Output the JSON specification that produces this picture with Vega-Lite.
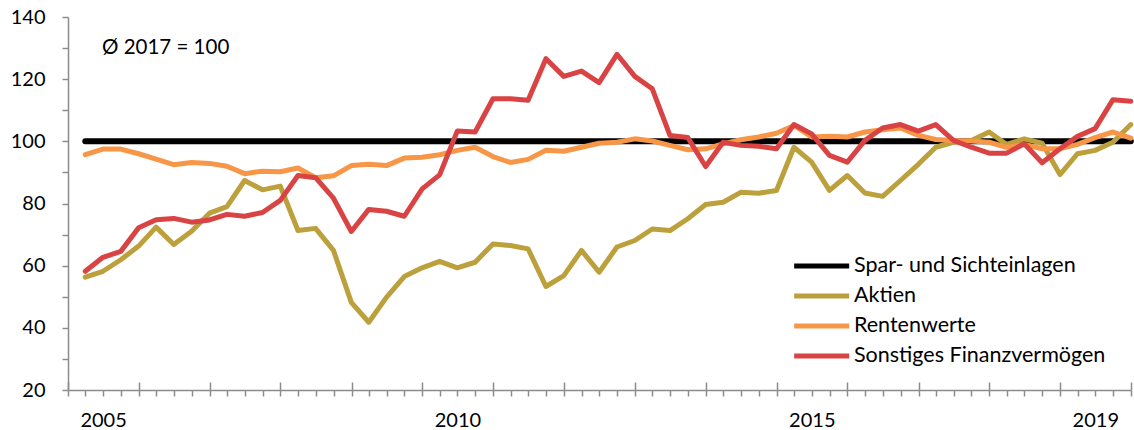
{
  "$schema": "https://vega.github.io/schema/vega-lite/v6.json",
  "width": 1063,
  "height": 373,
  "autosize": {"type": "none"},
  "padding": {"left": 68, "top": 17, "right": 3, "bottom": 40},
  "background": "white",
  "title": {
    "text": "Ø 2017 = 100",
    "anchor": "start",
    "frame": "group",
    "font": "Lato",
    "fontSize": 20.5,
    "fontWeight": "normal",
    "color": "#000000",
    "dx": 34,
    "dy": 55
  },
  "config": {
    "view": {"stroke": null},
    "font": "Lato"
  },
  "data": {
    "values": [
      {"date": "2005-03-31", "Spar- und Sichteinlagen": 100, "Aktien": 56.3, "Rentenwerte": 95.7, "Sonstiges Finanzvermögen": 58.2},
      {"date": "2005-06-30", "Spar- und Sichteinlagen": 100, "Aktien": 58.2, "Rentenwerte": 97.5, "Sonstiges Finanzvermögen": 62.7},
      {"date": "2005-09-30", "Spar- und Sichteinlagen": 100, "Aktien": 61.9, "Rentenwerte": 97.5, "Sonstiges Finanzvermögen": 64.6},
      {"date": "2005-12-31", "Spar- und Sichteinlagen": 100, "Aktien": 66.3, "Rentenwerte": 96.0, "Sonstiges Finanzvermögen": 72.2},
      {"date": "2006-03-31", "Spar- und Sichteinlagen": 100, "Aktien": 72.4, "Rentenwerte": 94.3, "Sonstiges Finanzvermögen": 74.8},
      {"date": "2006-06-30", "Spar- und Sichteinlagen": 100, "Aktien": 66.8, "Rentenwerte": 92.5, "Sonstiges Finanzvermögen": 75.2},
      {"date": "2006-09-30", "Spar- und Sichteinlagen": 100, "Aktien": 71.1, "Rentenwerte": 93.2, "Sonstiges Finanzvermögen": 74.0},
      {"date": "2006-12-31", "Spar- und Sichteinlagen": 100, "Aktien": 76.9, "Rentenwerte": 92.9, "Sonstiges Finanzvermögen": 74.7},
      {"date": "2007-03-31", "Spar- und Sichteinlagen": 100, "Aktien": 79.0, "Rentenwerte": 92.0, "Sonstiges Finanzvermögen": 76.5},
      {"date": "2007-06-30", "Spar- und Sichteinlagen": 100, "Aktien": 87.4, "Rentenwerte": 89.6, "Sonstiges Finanzvermögen": 75.9},
      {"date": "2007-09-30", "Spar- und Sichteinlagen": 100, "Aktien": 84.4, "Rentenwerte": 90.4, "Sonstiges Finanzvermögen": 77.1},
      {"date": "2007-12-31", "Spar- und Sichteinlagen": 100, "Aktien": 85.6, "Rentenwerte": 90.2, "Sonstiges Finanzvermögen": 81.0},
      {"date": "2008-03-31", "Spar- und Sichteinlagen": 100, "Aktien": 71.3, "Rentenwerte": 91.4, "Sonstiges Finanzvermögen": 89.0},
      {"date": "2008-06-30", "Spar- und Sichteinlagen": 100, "Aktien": 72.0, "Rentenwerte": 88.3, "Sonstiges Finanzvermögen": 88.3},
      {"date": "2008-09-30", "Spar- und Sichteinlagen": 100, "Aktien": 64.9, "Rentenwerte": 88.9, "Sonstiges Finanzvermögen": 81.7},
      {"date": "2008-12-31", "Spar- und Sichteinlagen": 100, "Aktien": 48.2, "Rentenwerte": 92.2, "Sonstiges Finanzvermögen": 71.0},
      {"date": "2009-03-31", "Spar- und Sichteinlagen": 100, "Aktien": 41.8, "Rentenwerte": 92.6, "Sonstiges Finanzvermögen": 78.1},
      {"date": "2009-06-30", "Spar- und Sichteinlagen": 100, "Aktien": 49.8, "Rentenwerte": 92.2, "Sonstiges Finanzvermögen": 77.5},
      {"date": "2009-09-30", "Spar- und Sichteinlagen": 100, "Aktien": 56.5, "Rentenwerte": 94.6, "Sonstiges Finanzvermögen": 75.9},
      {"date": "2009-12-31", "Spar- und Sichteinlagen": 100, "Aktien": 59.3, "Rentenwerte": 94.9, "Sonstiges Finanzvermögen": 84.7},
      {"date": "2010-03-31", "Spar- und Sichteinlagen": 100, "Aktien": 61.4, "Rentenwerte": 95.7, "Sonstiges Finanzvermögen": 89.2},
      {"date": "2010-06-30", "Spar- und Sichteinlagen": 100, "Aktien": 59.3, "Rentenwerte": 97.1, "Sonstiges Finanzvermögen": 103.3},
      {"date": "2010-09-30", "Spar- und Sichteinlagen": 100, "Aktien": 61.1, "Rentenwerte": 98.1, "Sonstiges Finanzvermögen": 103.0},
      {"date": "2010-12-31", "Spar- und Sichteinlagen": 100, "Aktien": 67.0, "Rentenwerte": 95.1, "Sonstiges Finanzvermögen": 113.7},
      {"date": "2011-03-31", "Spar- und Sichteinlagen": 100, "Aktien": 66.5, "Rentenwerte": 93.2, "Sonstiges Finanzvermögen": 113.7},
      {"date": "2011-06-30", "Spar- und Sichteinlagen": 100, "Aktien": 65.4, "Rentenwerte": 94.2, "Sonstiges Finanzvermögen": 113.2},
      {"date": "2011-09-30", "Spar- und Sichteinlagen": 100, "Aktien": 53.3, "Rentenwerte": 97.1, "Sonstiges Finanzvermögen": 126.6},
      {"date": "2011-12-31", "Spar- und Sichteinlagen": 100, "Aktien": 56.8, "Rentenwerte": 96.8, "Sonstiges Finanzvermögen": 120.9},
      {"date": "2012-03-31", "Spar- und Sichteinlagen": 100, "Aktien": 64.9, "Rentenwerte": 98.1, "Sonstiges Finanzvermögen": 122.6},
      {"date": "2012-06-30", "Spar- und Sichteinlagen": 100, "Aktien": 57.9, "Rentenwerte": 99.4, "Sonstiges Finanzvermögen": 118.9},
      {"date": "2012-09-30", "Spar- und Sichteinlagen": 100, "Aktien": 66.0, "Rentenwerte": 99.7, "Sonstiges Finanzvermögen": 128.0},
      {"date": "2012-12-31", "Spar- und Sichteinlagen": 100, "Aktien": 68.1, "Rentenwerte": 100.8, "Sonstiges Finanzvermögen": 120.9},
      {"date": "2013-03-31", "Spar- und Sichteinlagen": 100, "Aktien": 71.8, "Rentenwerte": 100.1, "Sonstiges Finanzvermögen": 116.9},
      {"date": "2013-06-30", "Spar- und Sichteinlagen": 100, "Aktien": 71.3, "Rentenwerte": 98.7, "Sonstiges Finanzvermögen": 101.9},
      {"date": "2013-09-30", "Spar- und Sichteinlagen": 100, "Aktien": 75.1, "Rentenwerte": 97.3, "Sonstiges Finanzvermögen": 101.2},
      {"date": "2013-12-31", "Spar- und Sichteinlagen": 100, "Aktien": 79.7, "Rentenwerte": 97.6, "Sonstiges Finanzvermögen": 91.9},
      {"date": "2014-03-31", "Spar- und Sichteinlagen": 100, "Aktien": 80.4, "Rentenwerte": 99.2, "Sonstiges Finanzvermögen": 99.7},
      {"date": "2014-06-30", "Spar- und Sichteinlagen": 100, "Aktien": 83.6, "Rentenwerte": 100.5, "Sonstiges Finanzvermögen": 98.7},
      {"date": "2014-09-30", "Spar- und Sichteinlagen": 100, "Aktien": 83.3, "Rentenwerte": 101.4, "Sonstiges Finanzvermögen": 98.4},
      {"date": "2014-12-31", "Spar- und Sichteinlagen": 100, "Aktien": 84.2, "Rentenwerte": 102.6, "Sonstiges Finanzvermögen": 97.6},
      {"date": "2015-03-31", "Spar- und Sichteinlagen": 100, "Aktien": 98.1, "Rentenwerte": 105.1, "Sonstiges Finanzvermögen": 105.4},
      {"date": "2015-06-30", "Spar- und Sichteinlagen": 100, "Aktien": 93.3, "Rentenwerte": 101.4, "Sonstiges Finanzvermögen": 102.4},
      {"date": "2015-09-30", "Spar- und Sichteinlagen": 100, "Aktien": 84.2, "Rentenwerte": 101.6, "Sonstiges Finanzvermögen": 95.5},
      {"date": "2015-12-31", "Spar- und Sichteinlagen": 100, "Aktien": 89.0, "Rentenwerte": 101.4, "Sonstiges Finanzvermögen": 93.3},
      {"date": "2016-03-31", "Spar- und Sichteinlagen": 100, "Aktien": 83.4, "Rentenwerte": 103.0, "Sonstiges Finanzvermögen": 100.3},
      {"date": "2016-06-30", "Spar- und Sichteinlagen": 100, "Aktien": 82.3, "Rentenwerte": 103.7, "Sonstiges Finanzvermögen": 104.3},
      {"date": "2016-09-30", "Spar- und Sichteinlagen": 100, "Aktien": 87.4, "Rentenwerte": 104.3, "Sonstiges Finanzvermögen": 105.4},
      {"date": "2016-12-31", "Spar- und Sichteinlagen": 100, "Aktien": 92.6, "Rentenwerte": 101.9, "Sonstiges Finanzvermögen": 103.3},
      {"date": "2017-03-31", "Spar- und Sichteinlagen": 100, "Aktien": 98.1, "Rentenwerte": 100.6, "Sonstiges Finanzvermögen": 105.4},
      {"date": "2017-06-30", "Spar- und Sichteinlagen": 100, "Aktien": 99.7, "Rentenwerte": 100.3, "Sonstiges Finanzvermögen": 100.3},
      {"date": "2017-09-30", "Spar- und Sichteinlagen": 100, "Aktien": 100.3, "Rentenwerte": 100.1, "Sonstiges Finanzvermögen": 98.1},
      {"date": "2017-12-31", "Spar- und Sichteinlagen": 100, "Aktien": 103.0, "Rentenwerte": 99.7, "Sonstiges Finanzvermögen": 96.2},
      {"date": "2018-03-31", "Spar- und Sichteinlagen": 100, "Aktien": 99.0, "Rentenwerte": 98.1, "Sonstiges Finanzvermögen": 96.2},
      {"date": "2018-06-30", "Spar- und Sichteinlagen": 100, "Aktien": 100.8, "Rentenwerte": 99.0, "Sonstiges Finanzvermögen": 99.2},
      {"date": "2018-09-30", "Spar- und Sichteinlagen": 100, "Aktien": 99.4, "Rentenwerte": 97.6, "Sonstiges Finanzvermögen": 93.1},
      {"date": "2018-12-31", "Spar- und Sichteinlagen": 100, "Aktien": 89.3, "Rentenwerte": 97.6, "Sonstiges Finanzvermögen": 97.6},
      {"date": "2019-03-31", "Spar- und Sichteinlagen": 100, "Aktien": 96.0, "Rentenwerte": 99.0, "Sonstiges Finanzvermögen": 101.6},
      {"date": "2019-06-30", "Spar- und Sichteinlagen": 100, "Aktien": 97.1, "Rentenwerte": 101.2, "Sonstiges Finanzvermögen": 104.1},
      {"date": "2019-09-30", "Spar- und Sichteinlagen": 100, "Aktien": 99.7, "Rentenwerte": 103.0, "Sonstiges Finanzvermögen": 113.4},
      {"date": "2019-12-31", "Spar- und Sichteinlagen": 100, "Aktien": 105.4, "Rentenwerte": 101.0, "Sonstiges Finanzvermögen": 112.9}
    ]
  },
  "transform": [
    {"fold": ["Spar- und Sichteinlagen", "Aktien", "Rentenwerte", "Sonstiges Finanzvermögen"], "as": ["serie", "wert"]}
  ],
  "encoding": {
    "y": {
      "field": "wert",
      "type": "quantitative",
      "title": null,
      "scale": {"domain": [20, 140], "nice": false, "zero": false},
      "axis": {
        "values": [20, 30, 40, 50, 60, 70, 80, 90, 100, 110, 120, 130, 140],
        "labelExpr": "datum.value % 20 == 0 ? datum.label : ''",
        "grid": false,
        "domainColor": "#8c8c8c",
        "domainWidth": 1.5,
        "tickColor": "#8c8c8c",
        "tickWidth": 1.5,
        "tickSize": 6,
        "labelPadding": 17,
        "labelFontSize": 20,
        "labelColor": "#000000",
        "labelFont": "Lato"
      }
    },
    "color": {
      "field": "serie",
      "type": "nominal",
      "sort": ["Spar- und Sichteinlagen", "Aktien", "Rentenwerte", "Sonstiges Finanzvermögen"],
      "scale": {
        "domain": ["Spar- und Sichteinlagen", "Aktien", "Rentenwerte", "Sonstiges Finanzvermögen"],
        "range": ["#000000", "#BBA03C", "#F79646", "#D94343"]
      },
      "legend": {
        "title": null,
        "orient": "none",
        "legendX": 760,
        "legendY": 237,
        "symbolType": "M-5,0H1",
        "symbolSize": 336,
        "symbolStrokeWidth": 5,
        "labelFontSize": 21.5,
        "labelFont": "Lato",
        "labelColor": "#000000",
        "labelLimit": 400,
        "labelOffset": 2,
        "rowPadding": 7,
        "padding": 0
      }
    }
  },
  "layer": [
    {
      "transform": [{"filter": "datum.serie == 'Spar- und Sichteinlagen'"}],
      "mark": {"type": "line", "strokeWidth": 6, "strokeCap": "round", "strokeJoin": "round"},
      "encoding": {
        "x": {
          "field": "date",
          "type": "temporal",
          "title": null,
          "scale": {"type": "utc", "domain": [{"year": 2005, "month": 1, "date": 1, "utc": true}, {"year": 2020, "month": 1, "date": 1, "utc": true}], "nice": false},
          "axis": {
            "orient": "bottom",
            "tickCount": {"interval": "month", "step": 3},
            "labelExpr": "utcmonth(datum.value) == 6 && indexof([2005, 2010, 2015, 2019], utcyear(datum.value)) >= 0 ? utcFormat(datum.value, '%Y') : ''",
            "labelOverlap": false,
            "labelFlush": false,
            "grid": false,
            "domainColor": "#8c8c8c",
            "domainWidth": 1.5,
            "tickColor": "#8c8c8c",
            "tickWidth": 1.5,
            "tickSize": 6,
            "labelPadding": 14,
            "labelFontSize": 20,
            "labelColor": "#000000",
            "labelFont": "Lato"
          }
        }
      }
    },
    {
      "transform": [{"filter": "datum.serie != 'Spar- und Sichteinlagen'"}],
      "mark": {"type": "line", "strokeWidth": 5, "strokeCap": "round", "strokeJoin": "round"},
      "encoding": {
        "x": {
          "field": "date",
          "type": "temporal",
          "title": null,
          "axis": {
            "orient": "bottom",
            "tickCount": {"interval": "year", "step": 1},
            "labels": false,
            "domain": false,
            "grid": false,
            "tickColor": "#8c8c8c",
            "tickWidth": 1.5,
            "tickSize": -8
          }
        }
      }
    }
  ],
  "resolve": {"axis": {"x": "independent"}}
}
